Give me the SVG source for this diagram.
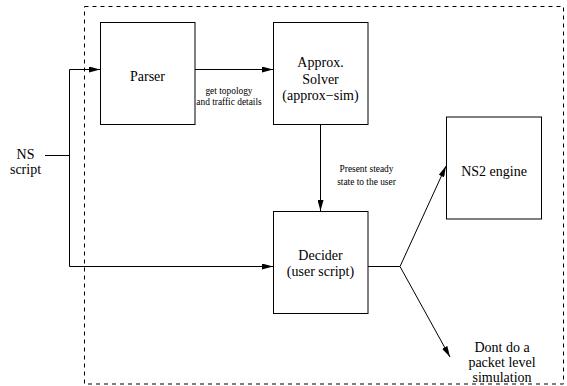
<svg xmlns="http://www.w3.org/2000/svg" width="567" height="386" viewBox="0 0 567 386">
<style>
.box{fill:#fff;stroke:#000;stroke-width:1}
.t{font-family:"Liberation Serif","Times New Roman",serif;font-size:14px;fill:#000;text-anchor:middle}
.s{font-family:"Liberation Serif","Times New Roman",serif;font-size:9.4px;fill:#000;text-anchor:middle}
.ln{fill:none;stroke:#000;stroke-width:1}
</style>
<defs>
<marker id="ah" markerWidth="11" markerHeight="6" refX="11" refY="3" orient="auto" markerUnits="userSpaceOnUse">
<path d="M0,0 L11,3 L0,6 z" fill="#000"/>
</marker>
</defs>
<rect id="boundary" x="84.5" y="6.5" width="479" height="377.5" fill="none" stroke="#000" stroke-width="1" stroke-dasharray="4 4"/>
<g id="connectors">
<path class="ln" d="M45,155.5 H69.5"/>
<path class="ln" d="M69.5,69.5 V266.5"/>
<path class="ln" d="M69.5,69.5 H100" marker-end="url(#ah)"/>
<path class="ln" d="M69.5,266.5 H273" marker-end="url(#ah)"/>
<path class="ln" d="M195,69.5 H273" marker-end="url(#ah)"/>
<path class="ln" d="M320.5,124.5 V211" marker-end="url(#ah)"/>
<path class="ln" d="M368,266.5 H400"/>
<path class="ln" d="M400,266.5 L446,166" marker-end="url(#ah)"/>
<path class="ln" d="M400,266.5 L450,357" marker-end="url(#ah)"/>
<text class="s" x="229" y="93.5">get topology</text>
<text class="s" x="229" y="105">and traffic details</text>
<text class="s" x="366.5" y="172">Present steady</text>
<text class="s" x="366.5" y="185">state to the user</text>
</g>
<g id="ns-script">
<text class="t" x="25.5" y="159">NS</text>
<text class="t" x="25.5" y="174">script</text>
</g>
<g id="parser">
<rect class="box" x="100.5" y="22.5" width="94.5" height="102"/>
<text class="t" x="147.5" y="81">Parser</text>
</g>
<g id="approx-solver">
<rect class="box" x="273.5" y="22.5" width="94.5" height="102"/>
<text class="t" x="320.5" y="67">Approx.</text>
<text class="t" x="320.5" y="83.5">Solver</text>
<text class="t" x="320.5" y="100">(approx−sim)</text>
</g>
<g id="decider">
<rect class="box" x="273.5" y="211.5" width="94.5" height="102"/>
<text class="t" x="320.5" y="260">Decider</text>
<text class="t" x="320.5" y="276">(user script)</text>
</g>
<g id="ns2-engine">
<rect class="box" x="446.5" y="117" width="95" height="102"/>
<text class="t" x="494" y="176">NS2 engine</text>
</g>
<g id="no-packet">
<text class="t" x="502" y="352">Dont do a</text>
<text class="t" x="502" y="367">packet level</text>
<text class="t" x="502" y="382">simulation</text>
</g>
</svg>
